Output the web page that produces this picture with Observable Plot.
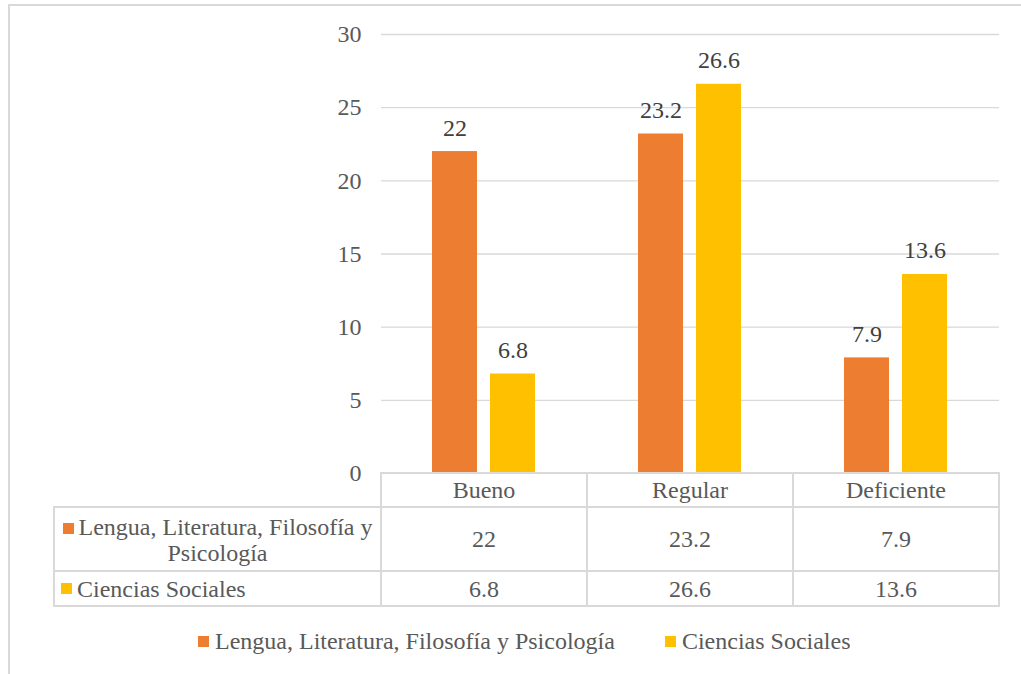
<!DOCTYPE html>
<html>
<head>
<meta charset="utf-8">
<script src="https://cdn.jsdelivr.net/npm/d3@7"></script>
<script src="https://cdn.jsdelivr.net/npm/@observablehq/plot@0.6"></script>
<style>
  html, body { margin: 0; padding: 0; background: #fff; }
  body { width: 1021px; height: 674px; overflow: hidden; position: relative;
         font-family: "Liberation Serif", "DejaVu Serif", serif; color: #595959; }
  #frame { position: absolute; left: 8px; top: 4px; width: 1100px; height: 800px;
           border: 2px solid #d9d9d9; box-sizing: border-box; pointer-events: none; z-index: 5; }
  #chart { position: absolute; left: 0; top: 0; }
  #chart svg, #chart svg text { font-family: "Liberation Serif", "DejaVu Serif", serif !important; }
  .cell { position: absolute; box-sizing: border-box; border: 2px solid #d9d9d9;
          font-size: 24px; line-height: 26px; display: flex; align-items: center; justify-content: center;
          text-align: center; color: #595959; background: #fff; }
  .key { display: inline-block; width: 11px; height: 11px; margin-right: 5px; vertical-align: 1px; }
  #legend { position: absolute; top: 628px; left: 198px; display: flex; align-items: center;
            font-size: 24px; color: #595959; white-space: nowrap; }
  #legend .item { display: flex; align-items: center; }
  #legend .item + .item { margin-left: 50px; }
  #legend .key { margin-right: 6px; vertical-align: 0; }
</style>
</head>
<body>
<div id="frame"></div>
<div id="chart"></div>
<div id="table"></div>
<div id="legend"></div>
<script>
const categories = ["Bueno", "Regular", "Deficiente"];
const seriesNames = ["Lengua, Literatura, Filosofía y Psicología", "Ciencias Sociales"];
const lenguaValues = [22, 23.2, 7.9];
const cienciasValues = [6.8, 26.6, 13.6];
const yTicks = [0, 5, 10, 15, 20, 25, 30];
const seriesColors = ["#ED7D31", "#FFC000"];

const seriesValues = [lenguaValues, cienciasValues];
const data = categories.flatMap((c, i) =>
  seriesNames.map((s, j) => ({category: c, series: s, value: seriesValues[j][i]})));

const chart = Plot.plot({
  width: 1021,
  height: 494,
  marginLeft: 380,
  marginRight: 21,
  marginTop: 34,
  marginBottom: 21,
  style: {background: "transparent", fontFamily: "'Liberation Serif', 'DejaVu Serif', serif", fontSize: "24px", color: "#595959"},
  fx: {domain: categories, padding: 0, axis: null},
  x: {domain: seriesNames, paddingInner: 0.22, paddingOuter: 0.862, axis: null},
  y: {domain: [0, 30], ticks: yTicks},
  color: {domain: seriesNames, range: seriesColors},
  marks: [
    Plot.gridY(yTicks, {stroke: "#d9d9d9", strokeOpacity: 1, strokeWidth: 1.3}),
    Plot.axisY(yTicks, {tickSize: 0, tickPadding: 20, fill: "#595959", fontSize: 24, label: null}),
    Plot.barY(data, {fx: "category", x: "series", y: "value", fill: "series"}),
    Plot.text(data, {fx: "category", x: "series", y: "value", text: d => String(d.value),
      lineAnchor: "bottom", dy: -16, fill: "#404040", fontSize: 24})
  ]
});
document.getElementById("chart").appendChild(chart);

// Data table aligned with the fx scale
const fx = chart.scale("fx");
const bw = fx.bandwidth;
const rowsY = [473, 507, 571, 606];
const labelLeft = 54;
const table = document.getElementById("table");
function addCell(x0, x1, y0, y1, html, extra) {
  const d = document.createElement("div");
  d.className = "cell";
  d.style.left = (x0 - 1) + "px";
  d.style.top = (y0 - 1) + "px";
  d.style.width = (x1 - x0 + 2) + "px";
  d.style.height = (y1 - y0 + 2) + "px";
  d.innerHTML = html;
  if (extra) Object.assign(d.style, extra);
  table.appendChild(d);
}
categories.forEach(c => {
  const x0 = fx.apply(c);
  addCell(x0, x0 + bw, rowsY[0], rowsY[1], c);
});
seriesNames.forEach((s, j) => {
  const x0 = labelLeft, x1 = fx.apply(categories[0]);
  const key = `<span class="key" style="background:${seriesColors[j]}"></span>`;
  const extra = j === 0
    ? {padding: "0 6px", display: "block", paddingTop: "6px", textAlign: "center"}
    : {padding: "0 6px", justifyContent: "flex-start"};
  addCell(x0, x1, rowsY[j + 1], rowsY[j + 2], j === 0 ? `<div>${key}${s}</div>` : `${key}${s}`, extra);
  categories.forEach((c, i) => {
    const cx = fx.apply(c);
    addCell(cx, cx + bw, rowsY[j + 1], rowsY[j + 2], String(seriesValues[j][i]));
  });
});

// Legend
const legend = document.getElementById("legend");
seriesNames.forEach((s, j) => {
  const it = document.createElement("div");
  it.className = "item";
  it.innerHTML = `<span class="key" style="background:${seriesColors[j]}"></span><span>${s}</span>`;
  legend.appendChild(it);
});
</script>
</body>
</html>
